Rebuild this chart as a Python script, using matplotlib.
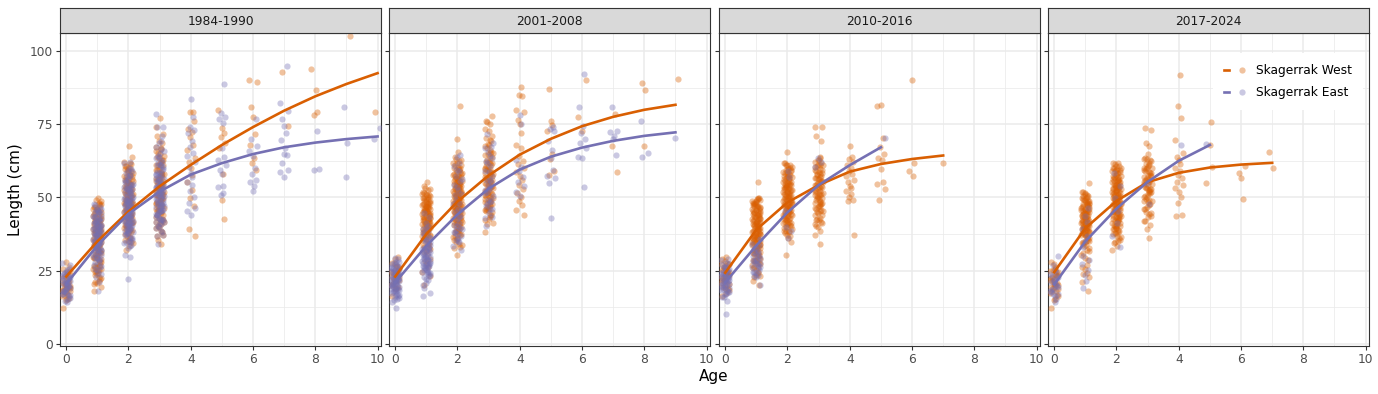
#
#  Length at age of fish in four periods, Skagerrak West vs East.
#  Jittered observations plus fitted growth curves, one panel per period.
#
import matplotlib
matplotlib.use('Agg')
import matplotlib.pyplot as plt
from matplotlib.lines import Line2D
from matplotlib.legend_handler import HandlerTuple

periods = ['1984-1990', '2001-2008', '2010-2016', '2017-2024']
regions = ['Skagerrak West', 'Skagerrak East']

# ---- young ages are too dense to read one by one: number of fish per 2 cm
#      length class, as (lowest class start, counts) ----
west_1984_bins = {
    0: (12, [1, 3, 6, 8, 7, 5, 3, 2]),
    1: (18, [2, 4, 5, 7, 7, 7, 8, 8, 10, 10, 10, 10, 9, 8, 7, 4]),
    2: (32, [2, 4, 5, 7, 8, 9, 10, 10, 10, 10, 10, 9, 8, 7, 5, 2, 0, 1]),
    3: (34, [2, 2, 4, 5, 6, 7, 7, 8, 8, 8, 7, 7, 6, 5, 5, 4, 3, 2, 2, 1, 0, 1]),
}
east_1984_bins = {
    0: (14, [4, 7, 8, 8, 7, 4, 2]),
    1: (18, [1, 1, 2, 3, 4, 6, 7, 8, 10, 10, 10, 10, 8, 7, 4]),
    2: (22, [1, 0, 0, 1, 1, 3, 5, 7, 8, 10, 10, 10, 10, 10, 8, 8, 7, 5, 4, 2, 1]),
    3: (34, [1, 2, 4, 5, 7, 8, 8, 8, 8, 8, 7, 7, 5, 5, 4, 3, 2, 2, 1, 1, 1, 0, 1]),
}
west_2001_bins = {
    0: (16, [1, 3, 4, 5, 5, 4, 2]),
    1: (20, [1, 1, 1, 2, 2, 3, 4, 6, 8, 10, 12, 12, 12, 12, 10, 8, 4, 1]),
    2: (30, [1, 3, 4, 6, 7, 9, 10, 12, 12, 12, 12, 12, 11, 10, 8, 6, 4, 1, 0, 0, 1, 0, 0, 0,
             0, 1]),
    3: (38, [1, 2, 4, 5, 7, 8, 8, 8, 8, 8, 7, 6, 5, 5, 4, 3, 2, 2, 2, 2]),
}
east_2001_bins = {
    0: (12, [1, 4, 8, 11, 12, 12, 10, 7, 3]),
    1: (16, [2, 1, 3, 5, 8, 10, 10, 8, 7, 5, 4, 3, 2, 1, 1]),
    2: (32, [2, 3, 4, 4, 3, 3, 2, 2, 2, 2, 2, 2, 2, 2, 2, 1, 1]),
    3: (40, [1, 2, 2, 3, 3, 3, 3, 3, 2, 2, 2, 2, 2, 2, 1, 1]),
}
west_2010_bins = {
    0: (16, [2, 4, 6, 7, 7, 5, 3]),
    1: (20, [2, 3, 4, 6, 7, 9, 10, 12, 12, 12, 12, 12, 12, 11, 10, 0, 0, 1]),
    2: (30, [1, 0, 1, 4, 7, 9, 10, 12, 12, 12, 12, 12, 11, 10, 9, 7, 0, 1]),
    3: (34, [1, 1, 2, 4, 5, 6, 7, 8, 8, 8, 8, 8, 7, 6, 5, 0, 0, 1, 1, 1, 1]),
}
east_2010_bins = {
    0: (10, [1, 0, 2, 5, 8, 9, 9, 8, 5, 2]),
    1: (20, [1, 3, 5, 6, 6, 5, 3, 2]),
}
west_2017_bins = {
    0: (12, [1, 2, 4, 5, 7, 7, 5, 3]),
    1: (18, [1, 1, 2, 2, 2, 2, 3, 4, 7, 10, 12, 12, 12, 12, 11, 10, 8, 0, 1]),
    2: (32, [2, 4, 6, 7, 9, 10, 12, 12, 12, 12, 12, 11, 10, 9, 7]),
    3: (36, [1, 1, 2, 3, 4, 4, 5, 7, 7, 7, 7, 7, 6, 5, 1, 1, 1, 0, 2]),
}
east_2017_bins = {
    0: (14, [2, 4, 5, 5, 4, 2, 1, 1]),
}

west_1984 = {
    4: [79.3, 79.0, 76.2, 73.2, 72.2, 70.5, 68.0, 66.1, 63.5, 62.0, 60.2, 57.5, 55.3, 52.4,
        49.8, 47.0, 39.1, 37.0],
    5: [79.9, 73.8, 71.9, 70.5, 68.5, 66.8, 58.0, 49.1, 42.6],
    6: [90.0, 89.5, 80.7, 77.6, 71.7, 68.0, 63.6, 61.7, 59.2],
    7: [92.8, 74.5],
    8: [93.7, 86.6, 79.1, 78.2],
    9: [105.1],
    10: [79.0],
}
east_1984 = {
    4: [83.6, 77.4, 74.0, 73.0, 71.9, 69.4, 67.1, 65.3, 64.0, 62.2, 60.4, 58.3, 57.1, 55.4,
        54.1, 52.3, 50.2, 48.1, 46.3, 45.2, 44.1],
    5: [88.7, 78.7, 77.4, 76.7, 75.3, 67.0, 63.9, 62.8, 61.1, 59.4, 58.0, 54.0, 53.5, 51.4, 50.8],
    6: [76.7, 69.9, 67.6, 65.9, 64.2, 60.0, 57.9, 56.0, 55.2, 54.0, 52.2],
    7: [95.0, 82.3, 79.5, 76.7, 74.5, 71.9, 69.6, 67.0, 64.8, 64.4, 61.7, 59.4, 58.5, 56.8],
    8: [72.8, 59.4, 59.6],
    9: [80.8, 68.7, 56.8],
    10: [73.6, 69.9],
}
west_2001 = {
    4: [87.8, 85.0, 84.6, 79.9, 79.3, 76.5, 75.2, 72.1, 67.9, 66.8, 64.1, 62.5, 61.3, 60.0,
        58.7, 57.3, 55.9, 54.2, 52.8, 51.5, 50.0, 48.9, 47.5, 45.7, 44.0],
    5: [86.9, 76.1, 74.8, 72.5, 64.7, 63.0, 59.0, 57.7],
    6: [90.1, 77.6, 72.5],
    7: [78.4, 67.6, 58.8],
    8: [89.2, 86.7, 67.6],
    9: [90.3],
}
east_2001 = {
    4: [78.2, 75.1, 62.8, 60.5, 59.0, 57.1, 55.4, 53.8, 52.0, 50.5],
    5: [74.0, 73.3, 72.8, 69.1, 66.2, 63.4, 59.4, 57.4, 56.5, 54.8, 43.1],
    6: [92.0, 80.7, 74.2, 72.0, 69.9, 68.5, 66.8, 63.9, 63.6, 53.7],
    7: [80.7, 72.7, 72.3, 71.0, 69.9, 64.5],
    8: [76.1, 65.1, 63.9],
    9: [70.2],
}
west_2010 = {
    4: [67.7, 63.7, 63.2, 62.0, 61.1, 60.0, 59.1, 58.0, 57.2, 56.1, 55.2, 54.0, 53.1, 52.2,
        51.0, 50.1, 49.0, 48.8, 37.2],
    5: [81.3, 81.6, 70.2, 67.1, 64.7, 63.5, 62.6, 59.7, 55.1, 54.6, 52.8, 49.1],
    6: [90.1, 61.7, 59.0, 57.3],
    7: [61.9],
}
east_2010 = {
    2: [59.0, 57.0, 40.0, 38.6, 45.5, 36.2],
    3: [63.5, 62.0, 60.3],
    5: [70.2],
}
west_2017 = {
    4: [91.6, 81.3, 77.0, 69.6, 65.1, 63.9, 62.6, 61.3, 60.2, 59.0, 57.8, 56.6, 55.4, 54.3,
        53.1, 51.9, 50.3, 48.0, 44.0, 43.6],
    5: [75.8, 67.9, 60.3, 54.8],
    6: [60.8, 58.3, 56.5, 49.4],
    7: [65.6, 60.0],
}
east_2017 = {
    1: [19.1, 21.5, 23.6, 25.4, 27.2, 28.7, 33.1, 35.0, 37.0, 39.2, 41.5, 43.8, 46.4, 30.0],
    2: [33.0, 37.0, 41.2, 45.5, 49.8, 54.0, 58.3],
    3: [47.8, 55.0],
    4: [67.9],
    5: [68.3],
}

# ---- fitted growth curves, length at ages 0,1,2,... ----
curve_west = [
    [23.0, 35.0, 45.2, 53.8, 61.1, 67.9, 74.0, 79.6, 84.5, 88.7, 92.4],
    [23.0, 37.5, 48.6, 57.5, 64.6, 70.0, 74.3, 77.5, 79.9, 81.6],
    [24.3, 39.0, 48.3, 54.2, 58.8, 61.4, 63.1, 64.3],
    [24.5, 39.5, 48.8, 55.2, 58.4, 60.2, 61.2, 61.8],
]
curve_east = [
    [20.5, 33.6, 44.4, 52.0, 57.8, 61.7, 64.8, 67.1, 68.7, 69.9, 70.8],
    [21.0, 33.5, 44.2, 53.0, 59.5, 63.9, 67.0, 69.3, 71.0, 72.2],
    [21.0, 33.6, 44.9, 54.2, 61.0, 67.1],
    [20.3, 35.0, 46.2, 55.3, 62.5, 67.9],
]

west_bins = [west_1984_bins, west_2001_bins, west_2010_bins, west_2017_bins]
east_bins = [east_1984_bins, east_2001_bins, east_2010_bins, east_2017_bins]
west_obs = [west_1984, west_2001, west_2010, west_2017]
east_obs = [east_1984, east_2001, east_2010, east_2017]

colors = ['#D95F02', '#7570B3']
# fixed horizontal jitter pattern and position inside a 2 cm class
jit = [-0.11, 0.04, -0.02, 0.09, -0.07, 0.12, -0.13, 0.01, 0.06, -0.04,
       0.11, -0.09, 0.03, -0.01, 0.08, -0.12, 0.13, -0.06, 0.0, 0.05]
frac = [0.1, 0.6, 0.35, 0.85, 0.2, 0.7, 0.45, 0.95, 0.05, 0.55, 0.3, 0.8]

def draw_points(ax, bins, obs, color, shift):
    xs, ys = [], []
    n = shift
    for age, (start, counts) in bins.items():
        for j, c in enumerate(counts):
            for m in range(c):
                xs.append(age + jit[n % len(jit)])
                ys.append(start + 2 * j + 2 * frac[(5 * m + j) % len(frac)])
                n += 1
    for age, lengths in obs.items():
        for v in lengths:
            xs.append(age + jit[n % len(jit)])
            ys.append(v)
            n += 1
    ax.scatter(xs, ys, s=20, color=color, alpha=0.38, linewidths=0, zorder=3)

def style_panel(ax, first):
    ax.set_xlim(-0.2, 10.11)
    ax.set_ylim(-0.6, 106.1)
    ax.set_xticks([0, 2, 4, 6, 8, 10])
    ax.set_xticks([1, 3, 5, 7, 9], minor=True)
    ax.set_yticks([0, 25, 50, 75, 100])
    ax.set_yticks([12.5, 37.5, 62.5, 87.5], minor=True)
    ax.grid(which='major', color='#EBEBEB', lw=1.1, zorder=0)
    ax.grid(which='minor', color='#EBEBEB', lw=0.55, zorder=0)
    ax.set_axisbelow(True)
    ax.tick_params(which='major', length=3, width=0.8, color='#333333',
                   labelsize=8.8, labelcolor='#4D4D4D', pad=2)
    ax.tick_params(which='minor', length=0)
    if not first:
        ax.tick_params(axis='y', labelleft=False)
    for s in ax.spines.values():
        s.set_color('#333333')
        s.set_linewidth(0.8)

fig = plt.figure(figsize=(13.78, 3.94), dpi=100)
W, H = 1378.0, 394.0
lefts = [60, 389, 719, 1048]
pw = 321
top, bottom = 33, 345.7
strip_top = 8.3

for k in range(4):
    ax = fig.add_axes([lefts[k] / W, (H - bottom) / H, pw / W, (bottom - top) / H])
    draw_points(ax, west_bins[k], west_obs[k], colors[0], 0)
    draw_points(ax, east_bins[k], east_obs[k], colors[1], 7)
    ax.plot(range(len(curve_west[k])), curve_west[k], color=colors[0], lw=1.9, zorder=4)
    ax.plot(range(len(curve_east[k])), curve_east[k], color=colors[1], lw=1.9, zorder=4)
    style_panel(ax, k == 0)

    # facet strip
    sx = fig.add_axes([lefts[k] / W, (H - top) / H, pw / W, (top - strip_top) / H])
    sx.set_facecolor('#D9D9D9')
    sx.set_xticks([])
    sx.set_yticks([])
    for s in sx.spines.values():
        s.set_color('#333333')
        s.set_linewidth(0.8)
    sx.text(0.5, 0.48, periods[k], ha='center', va='center', fontsize=8.8, color='#1A1A1A')

    if k == 3:
        handles = []
        for c in colors:
            handles.append((Line2D([], [], color=c, lw=1.9),
                            Line2D([], [], ls='', marker='o', ms=4.5, color=c,
                                   alpha=0.38, mew=0)))
        leg = ax.legend(handles, regions, handler_map={tuple: HandlerTuple(ndivide=None)},
                        loc='upper right', bbox_to_anchor=(1.0, 0.955), frameon=True,
                        facecolor='white', edgecolor='none', framealpha=1, fancybox=False,
                        fontsize=8.8, handlelength=1.7, labelspacing=0.75, borderpad=0.9,
                        handletextpad=0.9)
        leg.set_zorder(6)

fig.text(714 / W, 1 - 376 / H, 'Age', ha='center', va='center', fontsize=11)
fig.text(16 / W, 1 - 190 / H, 'Length (cm)', ha='center', va='center', fontsize=11,
         rotation=90)

plt.savefig('out.png', dpi=100)
